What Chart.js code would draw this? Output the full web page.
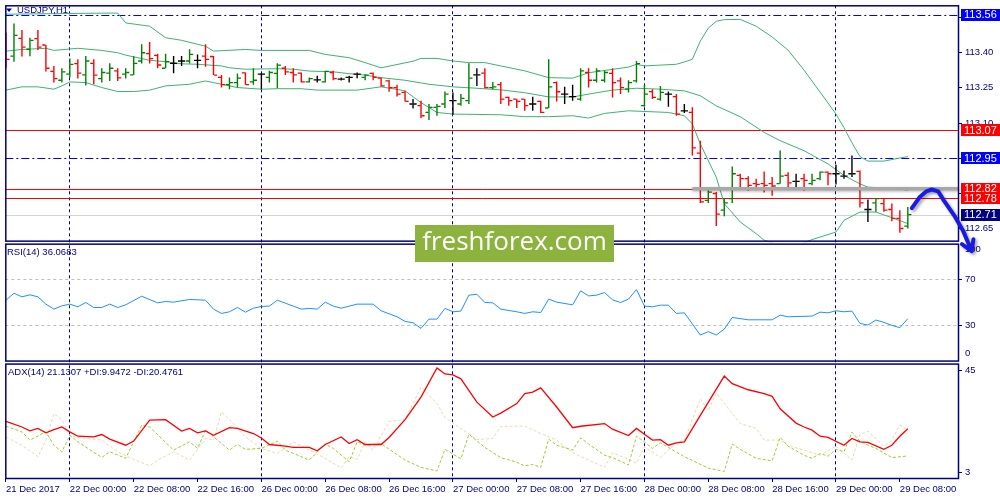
<!DOCTYPE html>
<html>
<head>
<meta charset="utf-8">
<title>USDJPY,H1</title>
<script src="https://cdn.jsdelivr.net/npm/chart.js@4.4.1/dist/chart.umd.min.js"></script>
<style>
  html, body { margin: 0; padding: 0; background: #fff; }
  #wrap { width: 1000px; height: 500px; }
</style>
</head>
<body>
<div id="wrap"><canvas id="chart" width="1000" height="500"></canvas></div>
<script>
// x axis: one slot per H1 bar, labels every 8 bars
const xTickIdx = [0, 8, 16, 24, 32, 40, 48, 56, 64, 72, 80, 88, 96, 104, 112];
const xTickLabels = ['21 Dec 2017', '22 Dec 00:00', '22 Dec 08:00', '22 Dec 16:00', '26 Dec 00:00',
  '26 Dec 08:00', '26 Dec 16:00', '27 Dec 00:00', '27 Dec 08:00', '27 Dec 16:00', '28 Dec 00:00',
  '28 Dec 08:00', '28 Dec 16:00', '29 Dec 00:00', '29 Dec 08:00'];
const daySeparatorIdx = [8, 32, 56, 80, 104];

// USDJPY H1 bars
const barOpen = [113.407,113.385,113.460,113.414,113.459,113.432,113.320,113.282,113.308,113.353,
  113.305,113.354,113.289,113.312,113.322,113.308,113.305,113.364,113.395,113.388,
  113.333,113.354,113.364,113.364,113.367,113.385,113.383,113.294,113.263,113.272,
  113.313,113.275,113.308,113.294,113.311,113.333,113.315,113.312,113.275,113.284,
  113.275,113.315,113.287,113.294,113.308,113.294,113.311,113.291,113.279,113.251,
  113.230,113.181,113.174,113.145,113.167,113.181,113.195,113.181,113.195,113.305,
  113.312,113.251,113.263,113.209,113.202,113.202,113.181,113.192,113.164,113.272,
  113.223,113.212,113.202,113.315,113.282,113.282,113.311,113.279,113.244,113.279,
  113.174,113.234,113.202,113.223,113.212,113.152,113.145,112.972,112.771,112.800,
  112.729,112.778,112.877,112.863,112.842,112.842,112.842,112.842,112.877,112.852,
  112.863,112.842,112.863,112.891,112.884,112.874,112.884,112.894,112.732,112.760,
  112.757,112.732,112.694,112.661];
const barHigh = [113.484,113.524,113.496,113.463,113.496,113.432,113.343,113.333,113.375,113.371,
  113.385,113.371,113.333,113.354,113.333,113.333,113.384,113.435,113.445,113.395,
  113.395,113.385,113.385,113.414,113.392,113.435,113.385,113.304,113.294,113.311,
  113.315,113.333,113.312,113.322,113.354,113.343,113.333,113.315,113.294,113.301,
  113.322,113.322,113.294,113.301,113.315,113.308,113.315,113.294,113.284,113.263,
  113.237,113.202,113.195,113.181,113.181,113.234,113.230,113.223,113.354,113.333,
  113.333,113.275,113.275,113.212,113.202,113.202,113.212,113.195,113.371,113.277,
  113.254,113.263,113.333,113.333,113.333,113.322,113.333,113.294,113.282,113.364,
  113.263,113.244,113.258,113.234,113.223,113.181,113.167,113.025,112.816,112.806,
  112.778,112.915,112.884,112.873,112.863,112.894,112.870,112.983,112.891,112.884,
  112.884,112.884,112.894,112.894,112.922,112.898,112.962,112.898,112.775,112.781,
  112.778,112.757,112.729,112.743];
const barLow = [113.333,113.361,113.383,113.384,113.411,113.319,113.272,113.272,113.294,113.289,
  113.260,113.265,113.272,113.279,113.279,113.289,113.304,113.353,113.353,113.333,
  113.333,113.312,113.343,113.353,113.333,113.340,113.304,113.251,113.244,113.251,
  113.263,113.263,113.244,113.272,113.248,113.304,113.272,113.272,113.272,113.272,
  113.272,113.282,113.281,113.272,113.291,113.282,113.282,113.254,113.233,113.213,
  113.192,113.162,113.121,113.113,113.131,113.164,113.135,113.174,113.181,113.258,
  113.248,113.244,113.181,113.174,113.164,113.152,113.152,113.143,113.164,113.192,
  113.181,113.195,113.195,113.251,113.272,113.272,113.209,113.223,113.230,113.272,
  113.169,113.202,113.195,113.169,113.131,113.143,112.962,112.760,112.760,112.662,
  112.703,112.760,112.828,112.811,112.814,112.804,112.790,112.842,112.814,112.825,
  112.811,112.835,112.856,112.835,112.838,112.863,112.870,112.740,112.679,112.722,
  112.722,112.682,112.633,112.651];
const barClose = [113.371,113.473,113.423,113.452,113.423,113.333,113.289,113.318,113.350,113.312,
  113.364,113.304,113.315,113.333,113.292,113.315,113.354,113.399,113.374,113.347,
  113.361,113.354,113.364,113.392,113.367,113.371,113.304,113.263,113.272,113.291,
  113.263,113.282,113.308,113.315,113.346,113.318,113.305,113.275,113.289,113.284,
  113.320,113.289,113.287,113.294,113.308,113.304,113.294,113.258,113.251,113.223,
  113.192,113.181,113.131,113.167,113.171,113.223,113.195,113.205,113.291,113.305,
  113.251,113.254,113.202,113.195,113.192,113.174,113.181,113.145,113.254,113.233,
  113.223,113.212,113.322,113.282,113.322,113.315,113.272,113.251,113.272,113.353,
  113.223,113.209,113.230,113.223,113.138,113.152,112.994,112.764,112.806,112.712,
  112.760,112.884,112.863,112.835,112.839,112.835,112.832,112.874,112.845,112.852,
  112.856,112.856,112.891,112.884,112.884,112.874,112.884,112.760,112.732,112.778,
  112.729,112.694,112.651,112.710];

// Bollinger bands
const bbUpIdx = [0,10,14,15,18,20,22,24,25,26,30,32,38,40,43,45,47,51,52,54,56,58,60,62,65,68,
  71,73,78,79,80,84,85,86,87,88,89,90,92,94,96,98,100,102,104,105,106,107,108,110,112,113];
const bbUpVal = [113.563,113.567,113.568,113.526,113.512,113.463,113.452,113.435,113.427,113.406,
  113.413,113.409,113.409,113.392,113.378,113.357,113.335,113.363,113.375,113.375,113.364,113.357,
  113.357,113.343,113.322,113.293,113.291,113.314,113.338,113.350,113.343,113.350,113.360,113.371,
  113.449,113.504,113.533,113.540,113.541,113.512,113.466,113.410,113.325,113.232,113.138,113.080,
  113.016,112.957,112.938,112.938,112.951,112.957];
const bbMidIdx = [0,2,5,6,9,12,14,15,18,20,22,24,27,28,30,34,36,38,41,43,45,47,50,53,56,59,62,
  65,68,71,73,76,79,82,85,87,89,92,95,97,100,103,105,107,108,112,113];
const bbMidVal = [113.406,113.413,113.418,113.409,113.418,113.409,113.399,113.389,113.367,113.361,
  113.352,113.350,113.343,113.335,113.329,113.331,113.329,113.321,113.318,113.310,113.304,113.293,
  113.282,113.265,113.254,113.248,113.241,113.229,113.211,113.211,113.223,113.240,113.248,113.244,
  113.237,113.216,113.173,113.127,113.060,113.025,112.982,112.926,112.877,112.841,112.827,112.820,
  112.813];
const bbLowIdx = [0,2,4,6,7,8,10,12,14,16,18,20,23,25,26,29,32,34,37,39,44,47,50,52,54,56,62,65,
  68,71,73,75,78,83,85,86,87,89,90,92,94,95,97,99,101,104,105,107,109,111,113];
const bbLowVal = [113.240,113.254,113.254,113.244,113.258,113.275,113.272,113.251,113.234,113.234,
  113.240,113.258,113.265,113.279,113.272,113.251,113.244,113.246,113.246,113.240,113.240,113.254,
  113.237,113.187,113.145,113.138,113.135,113.127,113.127,113.131,113.121,113.141,113.152,113.145,
  113.131,113.096,113.011,112.869,112.757,112.679,112.629,112.601,112.580,112.576,112.604,112.636,
  112.686,112.721,112.721,112.697,112.672];

// RSI(14)
const rsiIdx = [0,1,2,3,4,5,6,7,8,9,10,11,12,13,14,15,17,19,20,21,23,25,26,27,28,29,30,31,32,33,
  34,35,37,38,39,40,41,42,44,46,47,49,50,51,52,53,54,55,56,57,58,59,60,61,62,64,65,66,67,68,69,
  71,72,73,74,75,76,77,78,79,80,81,82,83,84,85,87,88,89,90,91,93,96,97,98,101,102,103,104,105,
  106,107,108,109,110,111,112,113];
const rsiVal = [52.0,58.0,54.9,56.6,54.9,48.6,44.3,47.1,48.6,46.3,50.0,45.7,45.7,48.6,45.7,48.0,
  55.4,49.7,50.9,50.3,52.6,52.0,44.3,40.6,42.0,45.7,41.7,45.1,46.6,46.9,52.0,49.4,44.3,44.9,44.3,
  50.3,46.9,45.1,48.6,48.6,42.9,37.7,33.7,32.6,27.7,35.7,35.7,44.9,42.0,42.6,56.3,57.1,50.0,49.7,
  44.3,42.0,40.6,42.0,41.4,52.9,50.3,48.0,60.0,55.7,56.3,58.6,52.3,50.0,52.9,61.1,46.9,46.3,47.7,
  47.7,40.6,41.1,22.0,24.9,22.0,27.1,37.1,35.1,35.1,39.1,37.7,38.3,41.7,41.1,42.9,42.0,42.6,32.0,
  30.6,34.9,32.9,30.3,28.3,36.1];
const rsiLevels = [30, 70];

// ADX(14), +DI, -DI
const adxIdx = [0,2,3,4,5,6,7,8,9,11,12,13,15,16,18,20,22,23,24,25,26,28,29,31,32,33,35,36,38,39,
  40,42,43,44,45,47,48,50,52,54,55,56,57,59,61,62,64,65,66,67,69,71,72,75,76,78,79,80,81,82,83,84,
  85,87,90,91,93,95,96,97,99,100,101,102,103,105,106,107,108,110,111,112,113];
const adxVal = [24.1,21.8,20.2,21.2,19.4,20.7,21.8,19.8,18.0,17.7,18.7,16.8,14.3,16.0,24.6,24.8,
  20.1,21.2,19.4,20.2,18.4,21.5,21.2,19.1,17.3,14.6,13.9,13.4,13.4,12.0,14.6,17.7,15.0,16.6,14.6,
  14.6,17.5,24.8,34.1,46.1,43.6,43.2,41.6,32.0,25.9,27.5,31.4,35.5,36.1,37.9,30.0,21.5,22.1,23.2,
  20.9,18.3,21.2,18.8,16.4,16.6,14.3,15.3,15.7,26.6,42.7,39.6,37.1,35.5,34.4,29.3,23.4,21.8,20.5,
  18.0,17.5,14.3,17.1,15.7,15.5,12.6,14.3,18.0,21.1];
const pdiIdx = [0,2,3,5,6,7,8,9,12,13,15,16,17,18,21,23,24,25,28,29,30,32,34,35,38,40,41,43,44,45,
  47,50,52,54,55,57,58,60,62,64,65,66,67,68,69,71,72,73,75,76,78,79,80,81,82,83,85,88,90,91,92,94,
  96,97,98,100,101,102,103,104,105,106,107,108,109,111,113];
const pdiVal = [22.1,19.8,16.4,19.8,14.3,11.6,18.4,15.7,9.3,11.6,8.9,15.7,22.5,21.8,12.3,15.7,13.0,
  20.5,12.3,14.6,12.6,13.0,16.0,12.3,8.2,14.8,13.0,7.5,15.7,14.3,15.0,8.2,5.2,3.7,12.6,8.7,18.8,
  13.4,9.2,7.3,5.8,6.4,5.2,16.8,14.3,12.3,17.3,14.8,10.2,9.2,6.2,18.0,15.7,13.0,15.3,13.4,9.6,4.9,
  3.5,14.8,12.6,8.9,7.9,17.5,13.9,10.2,8.9,10.9,9.8,12.6,11.6,19.7,16.0,14.3,13.0,9.2,9.9];
const mdiIdx = [0,2,4,5,6,7,8,10,12,14,16,18,19,21,23,25,26,27,28,30,32,34,36,38,40,42,43,44,45,46,
  48,50,52,54,55,57,59,61,62,65,67,69,71,75,76,78,79,80,82,84,85,87,88,89,92,94,95,97,98,102,104,
  106,107,108,110,111,112,113];
const mdiVal = [17.7,14.3,9.6,16.4,27.3,24.8,18.0,17.1,16.4,11.6,8.5,5.8,8.2,11.6,8.2,17.1,16.4,
  28.0,24.8,17.7,13.0,10.9,15.7,12.3,8.9,4.9,9.6,8.5,15.7,12.3,24.1,24.8,38.2,31.4,25.7,21.2,16.6,
  17.1,22.0,22.2,19.1,16.4,11.2,5.2,11.2,8.5,6.9,13.6,9.3,15.3,16.4,33.4,28.6,35.7,23.2,21.2,16.4,
  16.4,14.3,10.2,13.9,8.2,18.7,20.1,13.9,16.4,22.6,20.5];

// axis ticks
const priceTicks = [112.65, 112.80, 112.95, 113.10, 113.25, 113.40, 113.55];
const adxTicks = [3, 45];

// drawn objects
const levelPrices = [113.56, 113.07, 112.95, 112.82, 112.78];
const zonePrice = 112.82;
const zoneStartIdx = 86;
const arrowIdx = [113.5, 114.5, 115.3, 116.0, 116.8, 117.5, 118.8, 119.9, 121.0];
const arrowPrice = [112.738, 112.785, 112.809, 112.817, 112.809, 112.771, 112.707, 112.643, 112.555];

const NAVY = '#000080';
const FAM = "'Liberation Sans', Arial, sans-serif";
const levelColors = ['#0000ff', '#ff0000', '#0000ff', '#ff0000', '#ff0000'];
const levelDashes = [[8, 3, 2, 3], [], [8, 3, 2, 3], [], []];

const barIdx = barOpen.map((_, i) => i);
const barColors = barOpen.map((o, i) =>
  barClose[i] > o ? '#008000' : (barClose[i] < o ? '#ff0000' : '#000000'));
const bidPrice = barClose[barClose.length - 1];

const pts = (xs, ys) => xs.map((x, i) => ({ x: x, y: ys[i] }));

function hline(ctx, x1, y, x2) {
  ctx.beginPath();
  ctx.moveTo(x1, y);
  ctx.lineTo(x2, y);
  ctx.stroke();
}

const mt4Overlay = {
  id: 'mt4Overlay',
  beforeDatasetsDraw(chart) {
    const { ctx, chartArea: a, scales: { y } } = chart;
    ctx.save();
    ctx.beginPath();
    ctx.rect(a.left, y.top, a.right - a.left, y.bottom - y.top);
    ctx.clip();
    ctx.lineWidth = 1;
    ctx.strokeStyle = '#d3d3d3';
    hline(ctx, a.left, Math.round(y.getPixelForValue(bidPrice)) + 0.5, a.right);
    levelPrices.forEach((p, k) => {
      ctx.strokeStyle = levelColors[k];
      ctx.setLineDash(levelDashes[k]);
      hline(ctx, a.left, Math.round(y.getPixelForValue(p)) + 0.5, a.right);
    });
    ctx.restore();
  },
  afterDatasetsDraw(chart) {
    const { ctx, chartArea: a, scales: { x, y, rsi, adx } } = chart;
    const w = a.right - a.left;

    // grey zone marker
    ctx.save();
    ctx.shadowColor = 'rgba(0,0,0,0.3)';
    ctx.shadowBlur = 3;
    ctx.shadowOffsetY = 1;
    ctx.strokeStyle = '#a8a8a8';
    ctx.lineWidth = 3.5;
    hline(ctx, x.getPixelForValue(zoneStartIdx), y.getPixelForValue(zonePrice), a.right);
    ctx.restore();

    // window frames
    ctx.save();
    ctx.strokeStyle = NAVY;
    ctx.lineWidth = 1.5;
    ctx.strokeRect(a.left + 0.5, y.top + 0.5, w - 1, y.bottom - y.top - 1.5);
    ctx.strokeRect(a.left + 0.5, rsi.top + 2, w - 1, rsi.bottom - rsi.top - 3);
    ctx.strokeRect(a.left + 0.5, adx.top + 2, w - 1, adx.bottom - adx.top - 2.5);

    // window captions
    ctx.fillStyle = NAVY;
    ctx.beginPath();
    ctx.moveTo(6, 8.5); ctx.lineTo(12, 8.5); ctx.lineTo(9, 12);
    ctx.closePath();
    ctx.fill();
    ctx.font = '9.5px ' + FAM;
    ctx.textBaseline = 'middle';
    ctx.textAlign = 'left';
    ctx.fillText('USDJPY,H1', 17, 10);
    ctx.fillText('RSI(14) 36.0683', 7, rsi.top + 10);
    ctx.fillText('ADX(14) 21.1307 +DI:9.9472 -DI:20.4761', 8, adx.top + 10);

    // RSI min/max labels sit inside the window like MT4 does
    ctx.fillText('100', a.right + 6, rsi.getPixelForValue(100) + 5);
    ctx.fillText('0', a.right + 6, rsi.getPixelForValue(0) - 7);

    // price tags on the right scale
    const tags = levelPrices.map((p, k) => ({ p: p, c: levelColors[k] }));
    tags.push({ p: bidPrice, c: NAVY });
    ctx.font = '11px ' + FAM;
    tags.forEach(t => {
      const cy = y.getPixelForValue(t.p);
      ctx.fillStyle = t.c;
      ctx.fillRect(a.right + 2, Math.round(cy - 6), chart.width - a.right - 2, 12);
      ctx.fillStyle = '#ffffff';
      ctx.fillText(t.p.toFixed(2), a.right + 5, cy + 0.5);
    });
    ctx.restore();

    // hand drawn forecast arrow
    const ap = arrowIdx.map((v, i) => [x.getPixelForValue(v), y.getPixelForValue(arrowPrice[i])]);
    ctx.save();
    ctx.shadowColor = 'rgba(0,0,0,0.35)';
    ctx.shadowBlur = 3;
    ctx.shadowOffsetX = 2;
    ctx.shadowOffsetY = 2;
    ctx.strokeStyle = '#1a1ae6';
    ctx.lineWidth = 4;
    ctx.lineJoin = 'round';
    ctx.lineCap = 'round';
    ctx.beginPath();
    ap.forEach((p, i) => (i ? ctx.lineTo(p[0], p[1]) : ctx.moveTo(p[0], p[1])));
    const tip = ap[ap.length - 1], prev = ap[ap.length - 2];
    const ang = Math.atan2(tip[1] - prev[1], tip[0] - prev[0]);
    ctx.moveTo(tip[0] - 12 * Math.cos(ang - 0.55), tip[1] - 12 * Math.sin(ang - 0.55));
    ctx.lineTo(tip[0], tip[1]);
    ctx.lineTo(tip[0] - 12 * Math.cos(ang + 0.55), tip[1] - 12 * Math.sin(ang + 0.55));
    ctx.stroke();
    ctx.restore();

    // watermark
    ctx.save();
    ctx.fillStyle = '#8db33f';
    ctx.fillRect(415, 225, 199, 37);
    ctx.fillStyle = '#ffffff';
    ctx.font = '26px "Open Sans", sans-serif';
    ctx.textAlign = 'center';
    ctx.textBaseline = 'middle';
    ctx.fillText('freshforex.com', 514.5, 243);
    ctx.restore();
  }
};

const lineDs = (data, color, axis, extra) => Object.assign({
  type: 'line', data: data, borderColor: color, borderWidth: 1, pointRadius: 0,
  fill: false, tension: 0, yAxisID: axis
}, extra || {});

const tickFont = { family: FAM, size: 9.5 };

new Chart(document.getElementById('chart'), {
  type: 'bar',
  data: {
    datasets: [
      lineDs(pts(adxIdx, adxVal), '#ff0000', 'adx', { borderWidth: 1.3, order: 1 }),
      lineDs(pts(pdiIdx, pdiVal), '#9acd32', 'adx', { borderDash: [3, 2], order: 2 }),
      lineDs(pts(mdiIdx, mdiVal), '#f3d6ae', 'adx', { borderDash: [3, 2], order: 3 }),
      lineDs(pts(rsiIdx, rsiVal), '#1e90ff', 'rsi', { order: 4 }),
      {
        type: 'line', order: 5, yAxisID: 'y', showLine: false,
        data: pts(barIdx.map(i => i - 0.25), barOpen),
        pointStyle: 'line', pointRadius: 1.6, pointBorderWidth: 1.3,
        pointBorderColor: barColors, pointBackgroundColor: barColors
      },
      {
        type: 'line', order: 6, yAxisID: 'y', showLine: false,
        data: pts(barIdx.map(i => i + 0.25), barClose),
        pointStyle: 'line', pointRadius: 1.6, pointBorderWidth: 1.3,
        pointBorderColor: barColors, pointBackgroundColor: barColors
      },
      {
        type: 'bar', order: 7, yAxisID: 'y',
        data: barIdx.map(i => ({ x: i, y: [barLow[i], barHigh[i]] })),
        backgroundColor: barColors, barThickness: 1.4, borderWidth: 0, inflateAmount: 0
      },
      lineDs(pts(bbUpIdx, bbUpVal), '#3cb371', 'y', { order: 8 }),
      lineDs(pts(bbMidIdx, bbMidVal), '#3cb371', 'y', { order: 9 }),
      lineDs(pts(bbLowIdx, bbLowVal), '#3cb371', 'y', { order: 10 })
    ]
  },
  options: {
    responsive: false,
    animation: false,
    events: [],
    layout: { padding: { left: 3, top: 3, right: 0, bottom: 0 } },
    plugins: { legend: { display: false }, tooltip: { enabled: false } },
    scales: {
      x: {
        type: 'linear', position: 'bottom', offset: false,
        min: -0.0875, max: 119.4125,
        afterBuildTicks: s => { s.ticks = xTickIdx.map(v => ({ value: v })); },
        afterFit: s => { s.height = 21; s.paddingLeft = 0; s.paddingRight = 0; },
        ticks: {
          autoSkip: false, maxRotation: 0, align: 'start', padding: 2,
          color: NAVY, font: tickFont,
          callback: (v, i) => xTickLabels[i]
        },
        grid: {
          offset: false,
          drawOnChartArea: true,
          color: c => (c.tick && daySeparatorIdx.includes(c.tick.value)) ? NAVY : 'rgba(0,0,0,0)',
          lineWidth: 1, tickLength: 3, tickColor: NAVY
        },
        border: { display: false, dash: [3, 3] }
      },
      y: {
        type: 'linear', position: 'right', stack: 'panes', stackWeight: 238,
        min: 112.593, max: 113.601,
        afterBuildTicks: s => { s.ticks = priceTicks.map(v => ({ value: v })); },
        afterFit: s => { s.width = 41; s.paddingTop = 0; s.paddingBottom = 0; },
        ticks: { autoSkip: false, padding: 3, color: NAVY, font: tickFont, callback: v => v.toFixed(2) },
        grid: { drawOnChartArea: false, tickLength: 3, tickColor: NAVY },
        border: { display: false }
      },
      rsi: {
        type: 'linear', position: 'right', stack: 'panes', stackWeight: 120.5,
        min: -1.29, max: 101.97,
        afterBuildTicks: s => { s.ticks = rsiLevels.map(v => ({ value: v })); },
        afterFit: s => { s.width = 41; s.paddingTop = 0; s.paddingBottom = 0; },
        ticks: { autoSkip: false, padding: 3, color: NAVY, font: tickFont },
        grid: { drawOnChartArea: true, color: '#c0c0c0', tickLength: 3, tickColor: NAVY },
        border: { display: false, dash: [3, 3] }
      },
      adx: {
        type: 'linear', position: 'right', stack: 'panes', stackWeight: 117.5,
        min: 0.42, max: 48.48,
        afterBuildTicks: s => { s.ticks = adxTicks.map(v => ({ value: v })); },
        afterFit: s => { s.width = 41; s.paddingTop = 0; s.paddingBottom = 0; },
        ticks: { autoSkip: false, padding: 3, color: NAVY, font: tickFont },
        grid: { drawOnChartArea: false, tickLength: 3, tickColor: NAVY },
        border: { display: false }
      }
    }
  },
  plugins: [mt4Overlay]
});
</script>
</body>
</html>
